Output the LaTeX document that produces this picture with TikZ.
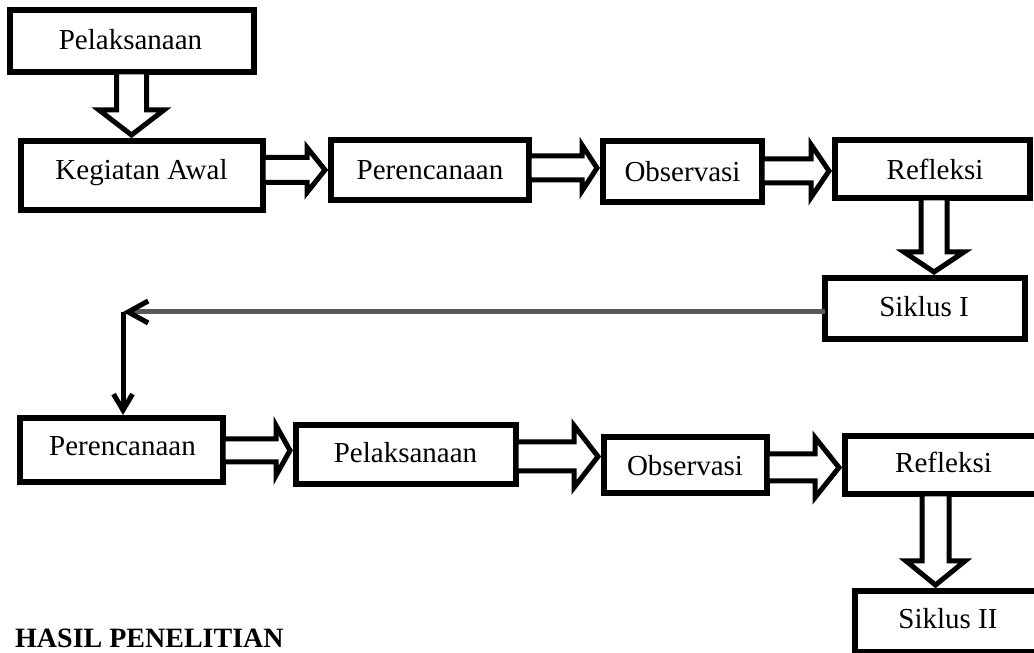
\documentclass[tikz,border=0pt]{standalone}
\usepackage{fontspec}
\setmainfont{Liberation Serif}
\usetikzlibrary{arrows.meta,calc}
\tikzset{
  box/.style={draw=black, line width=6pt, fill=white, inner sep=0pt, outer sep=0pt},
  lbl/.style={inner sep=0pt, font=\fontsize{29pt}{29pt}\selectfont, text height=19.2pt, text depth=0pt},
  blk/.style={draw=black, fill=white, line width=5pt, line join=miter},
  gline/.style={draw=black!65, line width=5pt},
  bline/.style={draw=black, line width=5pt},
}
% horizontal block arrow: from, to, axis y, shaft half, head half, head length
\newcommand\blkH[6]{%
  \draw[blk] let \p1=(#1.east), \p2=(#2.west) in
  (\x1,{#3pt+#4pt}) -- ({\x2-6pt-#6pt},{#3pt+#4pt}) -- ({\x2-6pt-#6pt},{#3pt+#5pt})
  -- ({\x2-6pt},{#3pt}) -- ({\x2-6pt-#6pt},{#3pt-#5pt}) -- ({\x2-6pt-#6pt},{#3pt-#4pt})
  -- (\x1,{#3pt-#4pt}) -- cycle;}
% vertical block arrow: from, to, x shift, shaft half, head half, head length
\newcommand\blkV[6]{%
  \draw[blk] let \p1=(#1.south), \p2=(#2.north) in
  ({\x1+#3pt-#4pt},\y1) -- ({\x1+#3pt-#4pt},{\y2+6pt+#6pt}) -- ({\x1+#3pt-#5pt},{\y2+6pt+#6pt})
  -- ({\x1+#3pt},{\y2+6pt}) -- ({\x1+#3pt+#5pt},{\y2+6pt+#6pt}) -- ({\x1+#3pt+#4pt},{\y2+6pt+#6pt})
  -- ({\x1+#3pt+#4pt},\y1) -- cycle;}
\begin{document}
\begin{tikzpicture}[x=1pt,y=1pt]
\useasboundingbox (0,0) rectangle (1034,653);
\fill[white] (0,0) rectangle (1034,653);
\clip (0,0) rectangle (1034,653);

% boxes
\node[box, minimum width=244pt, minimum height=62pt] (pel1) at (132,612) {};
\node[box, minimum width=242pt, minimum height=69pt] (keg)  at (142,477.5) {};
\node[box, minimum width=198pt, minimum height=60pt] (per1) at (430,483) {};
\node[box, minimum width=159pt, minimum height=61pt] (obs1) at (682.5,481.5) {};
\node[box, minimum width=195pt, minimum height=58pt] (ref1) at (932.5,484) {};
\node[box, minimum width=200pt, minimum height=61pt] (sik1) at (925,344.5) {};
\node[box, minimum width=203pt, minimum height=64pt] (per2) at (121.5,203) {};
\node[box, minimum width=220pt, minimum height=59pt] (pel2) at (406,198.5) {};
\node[box, minimum width=163pt, minimum height=56pt] (obs2) at (685.5,188) {};
\node[box, minimum width=198pt, minimum height=58pt] (ref2) at (944,188) {};
\node[box, minimum width=188pt, minimum height=61pt] (sik2) at (949,31.5) {};

% labels
\node[lbl] (pel1-t) at (130.5,613) {Pelaksanaan};
\node[lbl] (keg-t)  at (141.5,483) {Kegiatan Awal};
\node[lbl] (per1-t) at (430,483) {Perencanaan};
\node[lbl] (obs1-t) at (682.5,481.5) {Observasi};
\node[lbl] (ref1-t) at (935,483.5) {Refleksi};
\node[lbl] (sik1-t) at (924,346) {Siklus I};
\node[lbl] (per2-t) at (122.5,207) {Perencanaan};
\node[lbl] (pel2-t) at (405.5,200) {Pelaksanaan};
\node[lbl] (obs2-t) at (685,187.5) {Observasi};
\node[lbl] (ref2-t) at (943.5,190) {Refleksi};
\node[lbl] (sik2-t) at (948,34) {Siklus II};

% block arrows
\blkV{pel1}{keg}{-0.5}{15}{32.5}{25}
\blkH{keg}{per1}{483}{12.5}{22.5}{18}
\blkH{per1}{obs1}{485}{12}{23}{15}
\blkH{obs1}{ref1}{482}{12}{26.5}{18}
\blkV{ref1}{sik1}{1.5}{13}{30}{20}
\blkH{per2}{pel2}{202.5}{11.5}{25}{14}
\blkH{pel2}{obs2}{196.5}{14.5}{31}{24}
\blkH{obs2}{ref2}{185.5}{13.5}{30}{24}
\blkV{ref2}{sik2}{-8.5}{13.5}{29.5}{24}

% return connector
\coordinate (turn) at (123,341);
\draw[gline, -{Straight Barb[length=20pt,width=22pt,color=black]}] (sik1.west |- turn) -- (turn);
\draw[bline, -{Straight Barb[length=16pt,width=19pt]}] (turn) -- ($(turn |- per2.north)+(0,3)$);

% heading
\node[anchor=base west, inner sep=0pt, text depth=0pt, font=\bfseries\fontsize{28pt}{28pt}\selectfont] (hasil) at (15,5) {HASIL PENELITIAN};
\end{tikzpicture}
\end{document}
